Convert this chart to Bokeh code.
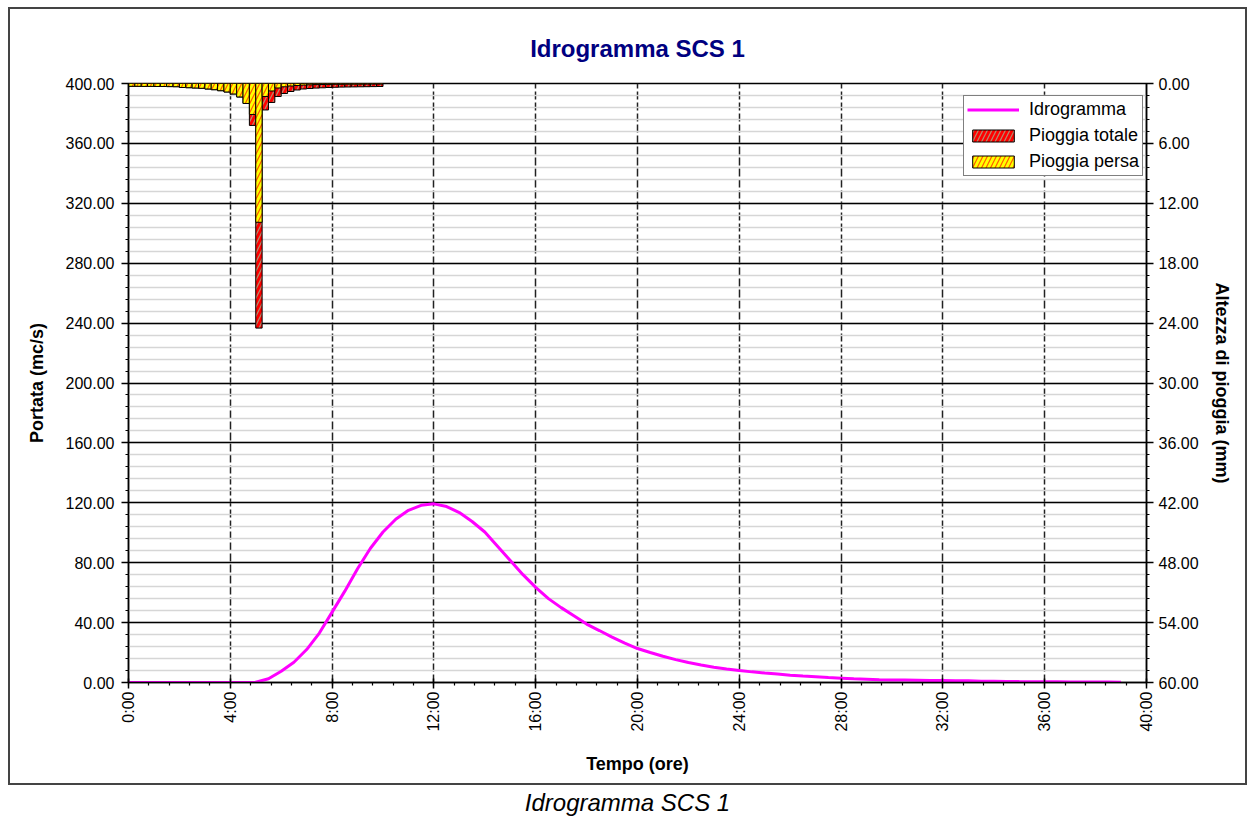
import math
from bokeh.plotting import figure
from bokeh.models import (Range1d, LinearAxis, FixedTicker, PrintfTickFormatter,
                          Legend, LegendItem, Div)
from bokeh.layouts import column
from bokeh.embed import file_html
from bokeh.resources import INLINE

# ---------------- data ----------------
# hydrograph (time in hours, discharge in mc/s)
hydro_t = [0.0, 0.5, 1.0, 1.5, 2.0, 2.5, 3.0, 3.5, 4.0, 4.5,
           5.0, 5.5, 6.0, 6.5, 7.0, 7.5, 8.0, 8.5, 9.0, 9.5,
           10.0, 10.5, 11.0, 11.5, 12.0, 12.5, 13.0, 13.5, 14.0, 14.5,
           15.0, 15.5, 16.0, 16.5, 17.0, 17.5, 18.0, 18.5, 19.0, 19.5,
           20.0, 20.5, 21.0, 21.5, 22.0, 22.5, 23.0, 23.5, 24.0, 24.5,
           25.0, 25.5, 26.0, 26.5, 27.0, 27.5, 28.0, 28.5, 29.0, 29.5,
           30.0, 30.5, 31.0, 31.5, 32.0, 32.5, 33.0, 33.5, 34.0, 34.5,
           35.0, 35.5, 36.0, 36.5, 37.0, 37.5, 38.0, 38.5, 39.0]
hydro_q = [0, 0, 0, 0, 0, 0, 0, 0, 0, 0,
           0.2, 2.5, 7.5, 13.5, 22, 33, 47, 61, 76, 89.5,
           100.5, 109, 115, 118.3, 119.3, 117.5, 113.5, 107.5, 100.5, 91,
           81.5, 72, 63.5, 56, 50, 44.5, 39, 34.7, 30.3, 26.3,
           22.7, 20.0, 17.5, 15.3, 13.3, 11.7, 10.2, 9.0, 8.0, 7.1,
           6.3, 5.6, 4.9, 4.3, 3.8, 3.3, 2.9, 2.5, 2.2, 1.9,
           1.7, 1.6, 1.5, 1.4, 1.3, 1.2, 1.1, 0.9, 0.8, 0.7,
           0.6, 0.55, 0.5, 0.45, 0.4, 0.35, 0.3, 0.3, 0.25]

# hyetograph, 15-minute steps (mm)
rain_step = 0.25
rain_total = [0.28, 0.28, 0.29, 0.29, 0.30, 0.30, 0.31, 0.32,
              0.40, 0.42, 0.45, 0.48, 0.55, 0.62, 0.72, 0.85,
              1.05, 1.35, 2.00, 4.20, 24.50, 2.65, 1.90, 1.30,
              1.00, 0.80, 0.65, 0.55, 0.50, 0.46, 0.43, 0.40,
              0.38, 0.36, 0.35, 0.34, 0.33, 0.32, 0.31, 0.30]
rain_persa = [0.28, 0.28, 0.29, 0.29, 0.30, 0.30, 0.31, 0.32,
              0.40, 0.42, 0.45, 0.48, 0.55, 0.62, 0.72, 0.85,
              1.05, 1.35, 2.00, 3.10, 13.90, 1.30, 0.75, 0.45,
              0.33, 0.25, 0.20, 0.16, 0.13, 0.11, 0.10, 0.09,
              0.08, 0.08, 0.07, 0.07, 0.07, 0.06, 0.06, 0.06]
rain_x = [rain_step * i + rain_step / 2 for i in range(len(rain_total))]

x_ticks = [0, 4, 8, 12, 16, 20, 24, 28, 32, 36, 40]
x_tick_labels = ["0:00", "4:00", "8:00", "12:00", "16:00", "20:00",
                 "24:00", "28:00", "32:00", "36:00", "40:00"]
x_minor = [round(0.8 * i, 2) for i in range(51)]
q_ticks = [0, 40, 80, 120, 160, 200, 240, 280, 320, 360, 400]
q_minor = [8 * i for i in range(51)]
r_ticks = [0, 6, 12, 18, 24, 30, 36, 42, 48, 54, 60]
r_minor = [round(1.2 * i, 2) for i in range(51)]

FONT = "Liberation Sans"

# ---------------- figure ----------------
p = figure(width=1239, height=778,
           min_border_left=118, min_border_right=103,
           min_border_top=74, min_border_bottom=105,
           x_range=Range1d(0, 40), y_range=Range1d(0, 400),
           output_backend="svg", toolbar_location=None,
           title="Idrogramma SCS 1")
p.margin = (7, 0, 0, 8)
p.extra_y_ranges = {"rain": Range1d(start=60, end=0)}
p.background_fill_color = "white"
p.border_fill_color = "white"
p.outline_line_color = "black"
p.outline_line_width = 1.5
p.styles = {"border": "2px solid #444"}

p.title.align = "center"
p.title.text_font = FONT
p.title.text_font_size = "24px"
p.title.text_font_style = "bold"
p.title.text_color = "#000080"
p.title.standoff = 43

# x axis
xa = p.xaxis[0]
xa.ticker = FixedTicker(ticks=x_ticks, minor_ticks=x_minor)
xa.major_label_overrides = {t: l for t, l in zip(x_ticks, x_tick_labels)}
xa.major_label_orientation = math.pi / 2
xa.axis_label = "Tempo (ore)"

# left axis
ya = p.yaxis[0]
ya.ticker = FixedTicker(ticks=q_ticks, minor_ticks=q_minor)
ya.formatter = PrintfTickFormatter(format="%.2f")
ya.axis_label = "Portata (mc/s)"

# right axis
ra = LinearAxis(y_range_name="rain",
                ticker=FixedTicker(ticks=r_ticks, minor_ticks=r_minor),
                formatter=PrintfTickFormatter(format="%.2f"),
                axis_label="Altezza di pioggia (mm)")
p.add_layout(ra, "right")

for ax in (xa, ya, ra):
    ax.axis_line_color = "black"
    ax.axis_line_width = 1.5
    ax.major_tick_line_color = "black"
    ax.major_tick_line_width = 1.5
    ax.minor_tick_line_color = "black"
    ax.minor_tick_line_width = 1.2
    ax.major_label_text_font = FONT
    ax.major_label_text_font_size = "16px"
    ax.major_label_text_color = "black"
    ax.axis_label_text_font = FONT
    ax.axis_label_text_font_size = "18px"
    ax.axis_label_text_font_style = "bold"
    ax.axis_label_text_color = "black"

xa.major_tick_in = 4
xa.major_tick_out = 6
xa.minor_tick_in = 0
xa.minor_tick_out = 3
xa.major_label_standoff = 3
xa.axis_label_standoff = 19
for ax in (ya, ra):
    ax.major_tick_in = 0
    ax.major_tick_out = 7
    ax.minor_tick_in = 0
    ax.minor_tick_out = 3
ya.major_label_standoff = 7
ya.axis_label_standoff = 16
ra.major_label_standoff = 5
ra.axis_label_standoff = 10

# grids
p.xgrid.ticker = FixedTicker(ticks=x_ticks)
p.xgrid.grid_line_color = "#222222"
p.xgrid.grid_line_width = 1.5
p.xgrid.grid_line_dash = "8 3"
p.ygrid.ticker = FixedTicker(ticks=q_ticks, minor_ticks=q_minor)
p.ygrid.grid_line_color = "black"
p.ygrid.grid_line_width = 1.5
p.ygrid.minor_grid_line_color = "#d6d6d6"
p.ygrid.minor_grid_line_width = 1.5

# ---------------- glyphs ----------------
r_tot = p.vbar(x=rain_x, width=rain_step, top=0, bottom=rain_total,
               y_range_name="rain", fill_color="#ff0000", line_color="black",
               line_width=1, hatch_pattern="/", hatch_color="#b09070",
               hatch_scale=9, hatch_weight=1.2)
r_per = p.vbar(x=rain_x, width=rain_step, top=0, bottom=rain_persa,
               y_range_name="rain", fill_color="#ffff00", line_color="black",
               line_width=1, hatch_pattern="/", hatch_color="#ff5a00",
               hatch_scale=9, hatch_weight=1.2)
r_line = p.line(hydro_t, hydro_q, line_color="#ff00ff", line_width=3)

legend = Legend(items=[LegendItem(label="Idrogramma", renderers=[r_line]),
                       LegendItem(label="Pioggia totale", renderers=[r_tot]),
                       LegendItem(label="Pioggia persa", renderers=[r_per])],
                location=(835, 506))
legend.border_line_color = "black"
legend.border_line_width = 1.5
legend.background_fill_color = "white"
legend.background_fill_alpha = 1
legend.label_text_font = FONT
legend.label_text_font_size = "18px"
legend.label_text_color = "black"
legend.glyph_width = 52
legend.glyph_height = 15
legend.label_height = 17
legend.spacing = 5
legend.padding = 3
legend.margin = 0
legend.label_standoff = 10
p.add_layout(legend)

caption = Div(text="Idrogramma SCS 1", width=1239,
              styles={"text-align": "center", "font-style": "italic",
                      "font-size": "24px", "font-family": "Liberation Sans, Arial, sans-serif",
                      "color": "black"})
caption.margin = (1, 0, 0, 8)

layout = column(p, caption)
open("out.html", "w").write(file_html(layout, INLINE))
